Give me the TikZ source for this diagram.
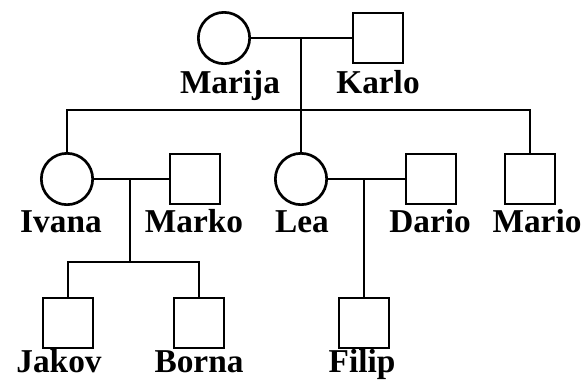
\documentclass[tikz,border=0pt]{standalone}
\usepackage{fontspec}
\setmainfont{Liberation Serif}
\usetikzlibrary{positioning,calc}
\tikzstyle{female}=[shape=circle,draw=black,line width=2pt,minimum size=38.5pt,inner sep=0pt]
\tikzstyle{male}=[shape=rectangle,draw=black,line width=2pt,minimum size=37.5pt,inner sep=0pt]
\tikzstyle{kinline}=[draw=black,line width=2pt]
\tikzstyle{pname}=[font=\fontsize{25}{30}\selectfont\bfseries,anchor=base,inner sep=0pt]

\begin{document}
\begin{tikzpicture}[x=0.75pt,y=-0.75pt]
\useasboundingbox (0,0) rectangle (585,380);

%grandparents
\node[female] (marija) at (224,38){};
\node[male] (karlo) at (378,38){};
\node[pname] (tmarija) at (230,93){Marija};
\node[pname] (tkarlo) at (378,93){Karlo};

%children
\node[female] (ivana) at (67,179){};
\node[male] (marko) at (195,179){};
\node[female] (lea) at (301,179){};
\node[male] (dario) at (431,179){};
\node[male] (mario) at (530,179){};
\node[pname] (tivana) at (61,232){Ivana};
\node[pname] (tmarko) at (194,232){Marko};
\node[pname] (tlea) at (302,232){Lea};
\node[pname] (tdario) at (430,232){Dario};
\node[pname] (tmario) at (537,232){Mario};

%grandchildren
\node[male] (jakov) at (68,323){};
\node[male] (borna) at (199,323){};
\node[male] (filip) at (364,323){};
\node[pname] (tjakov) at (59,372){Jakov};
\node[pname] (tborna) at (199,372){Borna};
\node[pname] (tfilip) at (362,372){Filip};

\coordinate (mk) at (301,38);
\coordinate (sibL) at (67,110);
\coordinate (sibM) at (301,110);
\coordinate (sibR) at (530,110);
\coordinate (im) at (130,179);
\coordinate (imdown) at (130,262);
\coordinate (jb1) at (68,262);
\coordinate (jb2) at (199,262);
\coordinate (ld) at (364,179);

\path
(marija) edge [kinline] (karlo)
(ivana) edge [kinline] (marko)
(lea) edge [kinline] (dario)
(mk) edge [kinline] (sibM)
(sibM) edge [kinline] (lea)
(im) edge [kinline] (imdown)
(ld) edge [kinline] (filip)
;
\draw[kinline] (ivana) -- (sibL) -- (sibR) -- (mario);
\draw[kinline] (jakov) -- (jb1) -- (jb2) -- (borna);

\end{tikzpicture}
\end{document}
